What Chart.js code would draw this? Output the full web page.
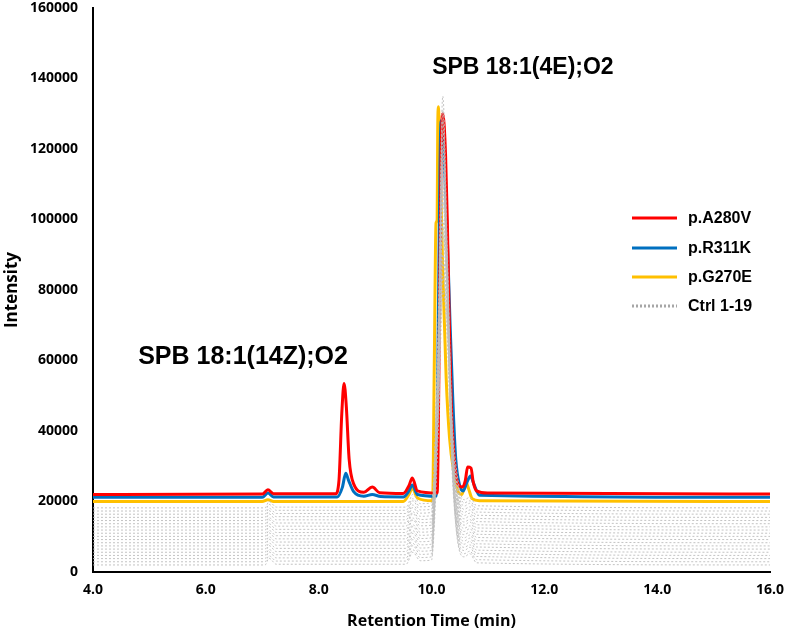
<!DOCTYPE html>
<html>
<head>
<meta charset="utf-8">
<script src="https://cdn.jsdelivr.net/npm/chart.js@4.4.0/dist/chart.umd.min.js"></script>
<style>
  html, body { margin: 0; padding: 0; background: #fff; }
  #wrap { width: 786px; height: 634px; }
</style>
</head>
<body>
<div id="wrap"><canvas id="chromChart" width="786" height="634"></canvas></div>
<script>
// Eixo X e Y
var xTicks = [4, 6, 8, 10, 12, 14, 16];
var yTicks = [0, 20000, 40000, 60000, 80000, 100000, 120000, 140000, 160000];

// p.A280V (vermelho)
var a280vTime = [4.0, 7.0, 7.1, 7.2, 8.3, 8.36, 8.41, 8.45, 8.49, 8.54, 8.62, 8.8, 8.95, 9.08, 9.5, 9.6, 9.66, 9.75, 10.1, 10.14, 10.17, 10.2, 10.25, 10.28, 10.31, 10.35, 10.4, 10.47, 10.54, 10.6, 10.64, 10.7, 10.74, 10.8, 11.0, 16.0];
var a280vIntensity = [22000, 22100, 23300, 22200, 22200, 26000, 45000, 53500, 47000, 32000, 25000, 22600, 24100, 22500, 22300, 24500, 26700, 23000, 22400, 70000, 118000, 130000, 118000, 100000, 75000, 48000, 33000, 25000, 24100, 26000, 29800, 29500, 25500, 23000, 22400, 22100];

// p.R311K (azul)
var r311kTime = [4.0, 7.0, 7.1, 7.2, 8.33, 8.42, 8.48, 8.53, 8.62, 8.8, 8.95, 9.1, 9.5, 9.6, 9.66, 9.75, 10.08, 10.12, 10.15, 10.17, 10.22, 10.28, 10.33, 10.38, 10.43, 10.5, 10.56, 10.63, 10.69, 10.75, 10.85, 16.0];
var r311kIntensity = [21200, 21200, 22400, 21300, 21300, 24000, 28000, 26000, 22800, 21500, 22000, 21400, 21300, 23000, 24700, 22000, 21500, 70000, 115000, 128000, 118000, 95000, 70000, 48000, 32000, 24500, 23000, 25500, 27200, 25000, 21800, 21200];

// p.G270E (amarelo)
var g270eTime = [4.0, 7.0, 7.1, 7.2, 9.5, 9.6, 9.66, 9.75, 10.02, 10.05, 10.08, 10.1, 10.11, 10.12, 10.15, 10.2, 10.26, 10.32, 10.4, 10.48, 10.54, 10.61, 10.66, 10.72, 10.85, 16.0];
var g270eIntensity = [20000, 20000, 20500, 20000, 20000, 22000, 23800, 21000, 20200, 60000, 99000, 100000, 125000, 132000, 118000, 85000, 55000, 38000, 28000, 22500, 22000, 25500, 23500, 20800, 20200, 20000];

// Ctrl 1-19 (cinza pontilhado)
var ctrlTime = [4.0, 7.05, 7.12, 7.25, 9.55, 9.67, 9.8, 10.0, 10.12, 10.2, 10.28, 10.36, 10.46, 10.58, 10.68, 10.8, 16.0];
var ctrl01 = [18200, 18200, 20000, 18400, 18400, 22000, 19400, 19600, 72000, 135000, 92000, 46000, 27000, 20500, 21200, 18800, 18200];
var ctrl02 = [17300, 17300, 19200, 17500, 17500, 20800, 18500, 18700, 60000, 118000, 84000, 42000, 25500, 19600, 20200, 17900, 17300];
var ctrl03 = [16400, 16400, 18100, 16600, 16600, 20200, 17600, 17800, 52000, 96000, 78000, 40000, 24000, 18700, 19500, 17000, 16400];
var ctrl04 = [15500, 15500, 17400, 15700, 15700, 19000, 16700, 16900, 66000, 128000, 88000, 44000, 23500, 17800, 18500, 16100, 15500];
var ctrl05 = [14600, 14600, 16500, 14800, 14800, 18300, 15800, 16000, 58000, 110000, 80000, 39000, 22000, 16900, 17600, 15200, 14600];
var ctrl06 = [13700, 13700, 15400, 13900, 13900, 17100, 14900, 15100, 46000, 84000, 70000, 36000, 21000, 16000, 16700, 14300, 13700];
var ctrl07 = [12800, 12800, 14800, 13000, 13000, 16600, 14000, 14200, 62000, 122000, 86000, 41000, 20500, 15100, 15900, 13400, 12800];
var ctrl08 = [11900, 11900, 13700, 12100, 12100, 15300, 13100, 13300, 50000, 100000, 76000, 37000, 19000, 14200, 14900, 12500, 11900];
var ctrl09 = [11000, 11000, 12900, 11200, 11200, 14800, 12200, 12400, 68000, 131000, 90000, 43000, 18500, 13300, 14200, 11600, 11000];
var ctrl10 = [10100, 10100, 11800, 10300, 10300, 13400, 11300, 11500, 46000, 90000, 72000, 34000, 17000, 12400, 13100, 10700, 10100];
var ctrl11 = [9200, 9200, 11100, 9400, 9400, 12900, 10400, 10600, 56000, 115000, 82000, 38000, 16500, 11500, 12300, 9800, 9200];
var ctrl12 = [8300, 8300, 10000, 8500, 8500, 11700, 9500, 9700, 52000, 105000, 79000, 36000, 15500, 10600, 11300, 8900, 8300];
var ctrl13 = [7400, 7400, 9300, 7600, 7600, 11000, 8600, 8800, 62000, 125000, 87000, 39000, 14500, 9700, 10500, 8000, 7400];
var ctrl14 = [6500, 6500, 8200, 6700, 6700, 9900, 7700, 7900, 44000, 88000, 70000, 32000, 13000, 8800, 9600, 7100, 6500];
var ctrl15 = [5600, 5600, 7500, 5800, 5800, 9200, 6800, 7000, 56000, 112000, 81000, 35000, 12500, 7900, 8700, 6200, 5600];
var ctrl16 = [4700, 4700, 6400, 4900, 4900, 8100, 5900, 6100, 48000, 98000, 75000, 33000, 11500, 7000, 7700, 5300, 4700];
var ctrl17 = [3800, 3800, 5700, 4000, 4000, 7500, 5000, 5200, 60000, 120000, 84000, 36000, 10500, 6100, 7000, 4400, 3800];
var ctrl18 = [2900, 2900, 4600, 3100, 3100, 6300, 4100, 4300, 40000, 80000, 66000, 30000, 9500, 5200, 5900, 3500, 2900];
var ctrl19 = [2000, 2000, 3900, 2200, 2200, 5600, 3200, 3400, 54000, 108000, 78000, 33000, 9000, 4300, 5200, 2600, 2000];
var ctrlSeries = [ctrl01, ctrl02, ctrl03, ctrl04, ctrl05, ctrl06, ctrl07, ctrl08, ctrl09, ctrl10,
                  ctrl11, ctrl12, ctrl13, ctrl14, ctrl15, ctrl16, ctrl17, ctrl18, ctrl19];

// Legenda e anotações
var legendLabels = ['p.A280V', 'p.R311K', 'p.G270E', 'Ctrl 1-19'];
var peakLabels = ['SPB 18:1(4E);O2', 'SPB 18:1(14Z);O2'];

// Junta tempo e intensidade em pontos {x, y}
function toPoints(times, values) {
  return times.map(function (t, i) { return { x: t, y: values[i] }; });
}

function lineDataset(label, times, values, color, order) {
  return {
    label: label,
    data: toPoints(times, values),
    borderColor: color,
    backgroundColor: color,
    borderWidth: 3,
    pointRadius: 0,
    cubicInterpolationMode: 'monotone',
    order: order
  };
}

var datasets = [
  lineDataset(legendLabels[0], a280vTime, a280vIntensity, '#ff0000', 1),
  lineDataset(legendLabels[1], r311kTime, r311kIntensity, '#0070c0', 2),
  lineDataset(legendLabels[2], g270eTime, g270eIntensity, '#ffc000', 3)
];

for (var i = 0; i < ctrlSeries.length; i++) {
  datasets.push({
    label: 'Ctrl ' + (i + 1),
    data: toPoints(ctrlTime, ctrlSeries[i]),
    borderColor: '#bcbcbc',
    borderWidth: 0.9,
    borderDash: [2, 2],
    pointRadius: 0,
    fill: false,
    cubicInterpolationMode: 'monotone',
    order: 0
  });
}

// Plugin: legenda dentro da área do gráfico e rótulos dos picos
var legendColors = ['#ff0000', '#0070c0', '#ffc000', '#a6a6a6'];
var legendRows = [218, 248, 277, 306];

var overlayPlugin = {
  id: 'overlay',
  afterDraw: function (chart) {
    var c = chart.ctx;
    var xs = chart.scales.x, ys = chart.scales.y;
    c.save();
    // legenda
    c.font = 'bold 16px "Liberation Sans", Arial, sans-serif';
    c.textBaseline = 'middle';
    c.textAlign = 'left';
    for (var k = 0; k < legendLabels.length; k++) {
      c.beginPath();
      c.strokeStyle = legendColors[k];
      c.lineWidth = 3;
      c.setLineDash(k === 3 ? [2, 2] : []);
      c.moveTo(632, legendRows[k]);
      c.lineTo(677, legendRows[k]);
      c.stroke();
      c.fillStyle = '#000';
      c.fillText(legendLabels[k], 688, legendRows[k] + 1);
    }
    c.setLineDash([]);
    // rótulos dos picos
    c.textAlign = 'center';
    c.font = 'bold 23px "Liberation Sans", Arial, sans-serif';
    c.fillText(peakLabels[0], xs.getPixelForValue(11.62), ys.getPixelForValue(143000));
    c.font = 'bold 25px "Liberation Sans", Arial, sans-serif';
    c.fillText(peakLabels[1], xs.getPixelForValue(6.66), ys.getPixelForValue(61000));
    c.restore();
  }
};

var ctx = document.getElementById('chromChart').getContext('2d');
var chromChart = new Chart(ctx, {
  type: 'line',
  data: { datasets: datasets },
  options: {
    responsive: false,
    animation: false,
    layout: { padding: { top: 8, right: 16, left: 0, bottom: 0 } },
    plugins: {
      legend: { display: false },
      tooltip: { enabled: false }
    },
    scales: {
      x: {
        type: 'linear',
        min: 4,
        max: 16,
        afterFit: function (scale) {
          scale.height = 62;
          scale.paddingLeft = 0;
          scale.paddingRight = 0;
        },
        afterBuildTicks: function (scale) {
          scale.ticks = xTicks.map(function (v) { return { value: v }; });
        },
        ticks: {
          padding: 10,
          color: '#000',
          font: { family: '"Open Sans", sans-serif', size: 14, weight: 'bold' },
          callback: function (v) { return Number(v).toFixed(1); }
        },
        grid: { display: false, drawTicks: false },
        border: { display: true, color: '#000', width: 2 },
        title: {
          display: true,
          text: 'Retention Time (min)',
          color: '#000',
          font: { family: '"Open Sans", sans-serif', size: 16, weight: 'bold' },
          padding: { top: 0, bottom: 3 }
        }
      },
      y: {
        min: 0,
        max: 160000,
        afterFit: function (scale) {
          scale.width = 93;
          scale.paddingTop = 0;
          scale.paddingBottom = 0;
        },
        afterBuildTicks: function (scale) {
          scale.ticks = yTicks.map(function (v) { return { value: v }; });
        },
        ticks: {
          padding: 15,
          color: '#000',
          font: { family: '"Open Sans", sans-serif', size: 14, weight: 'bold' },
          callback: function (v) { return String(v); }
        },
        grid: { display: false, drawTicks: false },
        border: { display: true, color: '#000', width: 2 },
        title: {
          display: true,
          text: 'Intensity',
          color: '#000',
          font: { family: '"Open Sans", sans-serif', size: 17, weight: 'bold' },
          padding: { top: 2, bottom: 0 }
        }
      }
    }
  },
  plugins: [overlayPlugin]
});
</script>
</body>
</html>
